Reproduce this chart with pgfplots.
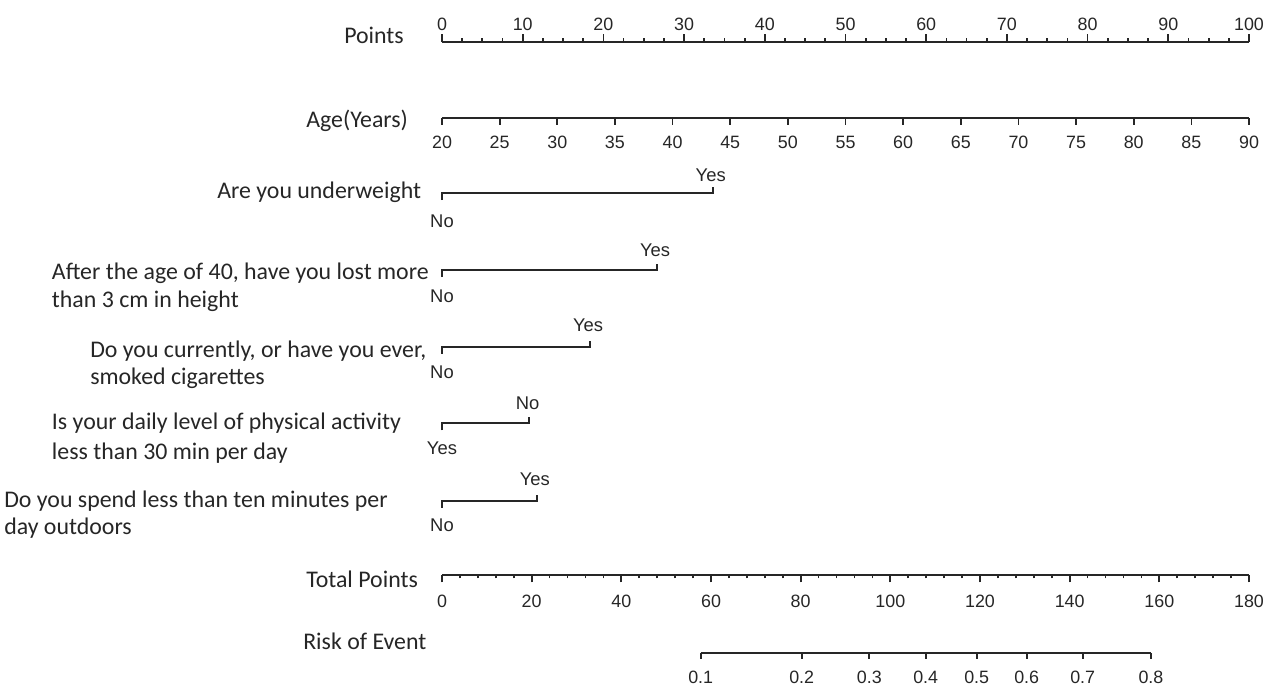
\documentclass[border=0pt]{standalone}
\usepackage{pgfplots}
\pgfplotsset{compat=1.18}
\usepackage{fontspec}
\setmainfont{Liberation Sans}
\newfontfamily\calfont{Carlito}
\definecolor{ink}{HTML}{262626}
\newcommand{\lab}{\calfont\fontsize{17.9}{21}\selectfont\color{ink}}
\newcommand{\yn}{\fontsize{13.8}{15}\selectfont\color{ink}}
\pgfplotsset{
  nomo/.style={
    scale only axis, height=1pt, ymin=0, ymax=1, hide y axis,
    enlargelimits=false, clip=false,
    axis line style={line width=1.4pt, ink},
    every tick/.style={line width=1.3pt, ink},
    major tick length=5.5pt, minor tick length=2.6pt,
    tick align=outside,
    xticklabel style={font=\fontsize{13.4}{15}\selectfont, text=ink, text height=9.8pt, text depth=0pt},
    /pgf/number format/assume math mode=true,
  }
}
\begin{document}
\begin{tikzpicture}
\path[use as bounding box] (0,0) rectangle (1270*0.75pt,-687*0.75pt);
% Points
\begin{axis}[nomo, width=605.25pt, at={(442*0.75pt,-41.7*0.75pt)}, anchor=north west,
  xmin=0, xmax=100, xtick distance=10, minor x tick num=3, axis x line*=top,
  xticklabel style={yshift=-0.5pt}]
\addplot[draw=none] coordinates {(0,1)};
\end{axis}
% Age
\begin{axis}[nomo, width=605.25pt, at={(442*0.75pt,-118.3*0.75pt)}, anchor=south west,
  xmin=20, xmax=90, xtick distance=5, axis x line*=bottom, major tick length=5pt,
  xticklabel style={yshift=-4.2pt}]
\addplot[draw=none] coordinates {(20,0)};
\end{axis}
% Binary variables
\begin{axis}[scale only axis, width=605.25pt, height=285pt, at={(442*0.75pt,-160*0.75pt)}, anchor=north west,
  xmin=0, xmax=100, ymin=160, ymax=540, y dir=reverse, hide axis, clip=false]
\addplot[line width=1.4pt, ink] coordinates {(0,200) (0,193) (33.54,193) (33.54,187)};
\addplot[line width=1.4pt, ink] coordinates {(0,277) (0,270) (26.6,270) (26.6,264)};
\addplot[line width=1.4pt, ink] coordinates {(0,353.7) (0,346.7) (18.34,346.7) (18.34,340.7)};
\addplot[line width=1.4pt, ink] coordinates {(0,430.3) (0,423.3) (10.82,423.3) (10.82,417.3)};
\addplot[line width=1.4pt, ink] coordinates {(0,507.7) (0,500.7) (11.73,500.7) (11.73,494.7)};
\node[font=\yn] at (axis cs:33.3,175) {Yes};
\node[font=\yn] at (axis cs:0,221) {No};
\node[font=\yn] at (axis cs:26.4,250) {Yes};
\node[font=\yn] at (axis cs:0,296) {No};
\node[font=\yn] at (axis cs:18.1,325.7) {Yes};
\node[font=\yn] at (axis cs:0,372.7) {No};
\node[font=\yn] at (axis cs:10.6,403) {No};
\node[font=\yn] at (axis cs:0,448) {Yes};
\node[font=\yn] at (axis cs:11.5,479) {Yes};
\node[font=\yn] at (axis cs:0,525) {No};
\end{axis}
% Total Points
\begin{axis}[nomo, width=605.25pt, at={(442*0.75pt,-575*0.75pt)}, anchor=south west,
  xmin=0, xmax=180, xtick distance=20, minor x tick num=4, axis x line*=bottom,
  xticklabel style={yshift=-5.8pt}]
\addplot[draw=none] coordinates {(0,0)};
\end{axis}
% Risk of Event
\begin{axis}[nomo, width=337.7pt, at={(700.7*0.75pt,-653.3*0.75pt)}, anchor=south west,
  xmin=57.70, xmax=158.14, axis x line*=bottom, major tick length=4pt,
  xtick={57.70,80.23,95.31,107.89,119.26,130.42,142.91,158.14},
  xticklabels={0.1,0.2,0.3,0.4,0.5,0.6,0.7,0.8},
  xticklabel style={yshift=-5.3pt}]
\addplot[draw=none] coordinates {(60,0)};
\end{axis}
% Left labels
\tikzset{lbl/.style={anchor=base west, inner sep=0pt, font=\lab}}
\node[lbl] at (344*0.75pt,-43.3*0.75pt) {Points};
\node[lbl] at (306*0.75pt,-127.7*0.75pt) {Age(Years)};
\node[lbl] at (217*0.75pt,-198*0.75pt) {Are you underweight};
\node[lbl] at (51.7*0.75pt,-279*0.75pt) {After the age of 40, have you lost more};
\node[lbl] at (51.7*0.75pt,-307.7*0.75pt) {than 3 cm in height};
\node[lbl] at (90*0.75pt,-357.7*0.75pt) {Do you currently, or have you ever,};
\node[lbl] at (90*0.75pt,-384.3*0.75pt) {smoked cigarettes};
\node[lbl] at (51.7*0.75pt,-429.5*0.75pt) {Is your daily level of physical activity};
\node[lbl] at (51.7*0.75pt,-459.5*0.75pt) {less than 30 min per day};
\node[lbl] at (4*0.75pt,-507.7*0.75pt) {Do you spend less than ten minutes per};
\node[lbl] at (4*0.75pt,-534.5*0.75pt) {day outdoors};
\node[lbl] at (306*0.75pt,-587.7*0.75pt) {Total Points};
\node[lbl] at (303*0.75pt,-649*0.75pt) {Risk of Event};
\end{tikzpicture}
\end{document}
